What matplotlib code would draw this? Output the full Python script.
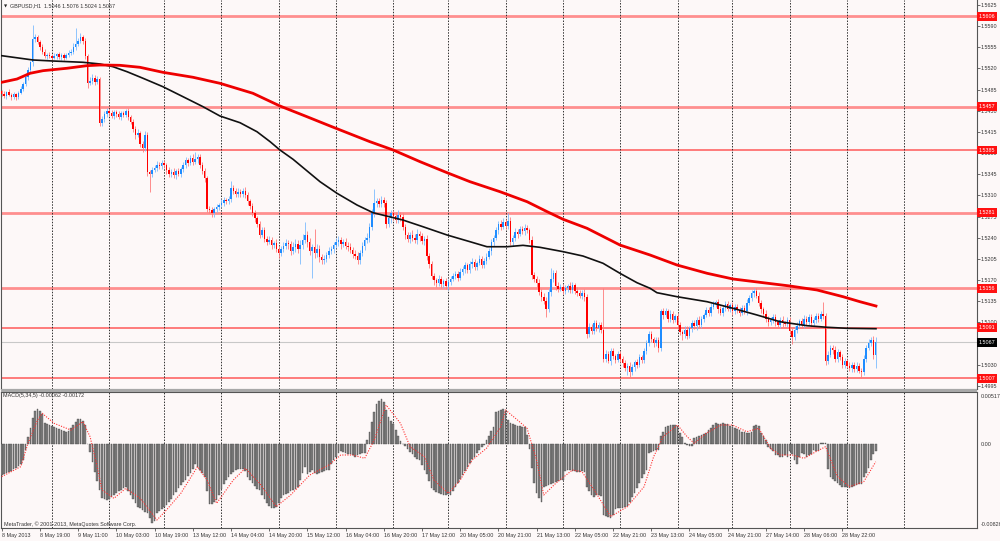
import matplotlib
matplotlib.use('Agg')
import matplotlib.pyplot as plt
import matplotlib.transforms as mtransforms
from matplotlib.patches import Rectangle
import numpy as np

plt.rcParams['font.family'] = ['Liberation Sans', 'DejaVu Sans']

W, H = 1000, 541
BG = '#fdf8f8'
FS = 3.9

# GBPUSD H1 candles, in pips above 1.5000 (each bar opens at the previous close)
first_open = 482
closes = [
    478, 474, 481, 476, 472, 477, 473, 480, 486, 494,
    506, 518, 530, 568, 572, 564, 556, 548, 540, 543,
    541, 537, 540, 544, 539, 542, 538, 543, 545, 548,
    556, 560, 566, 572, 566, 540, 496, 500, 505, 498,
    502, 430, 436, 445, 450, 446, 441, 448, 444, 439,
    446, 443, 449, 440, 432, 420, 410, 413, 395, 388,
    410, 348, 345, 352, 356, 361, 358, 364, 360, 352,
    345, 349, 343, 350, 346, 353, 360, 368, 364, 372,
    366, 370, 374, 360, 350, 338, 288, 285, 280, 287,
    290, 294, 298, 302, 300, 304, 322, 318, 312, 316,
    313, 318, 310, 300, 292, 280, 272, 262, 245, 252,
    238, 233, 236, 228, 231, 222, 215, 222, 226, 231,
    229, 218, 225, 230, 221, 228, 236, 245, 232, 218,
    224, 214, 222, 208, 203, 205, 212, 218, 221, 228,
    233, 236, 229, 232, 227, 225, 220, 213, 210, 203,
    215, 226, 236, 240, 258, 280, 298, 300, 296, 302,
    298, 262, 272, 280, 276, 270, 278, 274, 258, 244,
    238, 245, 240, 236, 246, 242, 234, 238, 210, 196,
    176, 170, 165, 172, 163, 168, 160, 166, 172, 176,
    180, 174, 183, 188, 194, 186, 196, 200, 192, 198,
    205, 195, 202, 208, 218, 232, 240, 252, 262, 258,
    266, 260, 268, 232, 240, 250, 246, 254, 251, 256,
    252, 236, 178, 172, 165, 150, 142, 136, 122, 150,
    172, 182, 160, 155, 158, 152, 156, 160, 153, 161,
    152, 148, 144, 149, 141, 80, 92, 86, 98, 90,
    95, 88, 40, 48, 36, 52, 44, 38, 47, 40,
    32, 24, 28, 18, 26, 34, 30, 42, 38, 52,
    66, 80, 72, 65, 70, 58, 118, 112, 118, 106,
    114, 104, 110, 96, 84, 80, 88, 78, 90, 98,
    94, 104, 96, 106, 112, 120, 116, 126, 130, 133,
    122, 116, 124, 130, 122, 128, 118, 126, 120, 116,
    124, 118, 132, 140, 148, 152, 144, 132, 122, 114,
    106, 100, 104, 108, 100, 96, 104, 98, 97, 103,
    86, 76, 88, 94, 102, 96, 106, 100, 108, 98,
    104, 110, 106, 114, 110, 36, 46, 58, 54, 40,
    50, 42, 30, 36, 28, 24, 30, 22, 28, 20,
    18, 40, 58, 66, 70, 46, 67,
]
up_wick = [
    3, 4, 2, 5, 3, 4, 2, 3, 5, 4,
    6, 4, 3, 24, 5, 4, 3, 5, 4, 3,
    4, 3, 5, 2, 4, 3, 4, 3, 5, 4,
    6, 27, 5, 6, 4, 5, 4, 6, 5, 4,
    5, 4, 6, 5, 4, 3, 5, 4, 3, 5,
    4, 3, 4, 5, 3, 4, 5, 6, 4, 5,
    6, 5, 4, 5, 4, 6, 5, 4, 5, 4,
    5, 4, 6, 3, 5, 4, 5, 6, 4, 5,
    6, 12, 5, 4, 6, 5, 4, 5, 6, 4,
    5, 4, 6, 5, 4, 5, 11, 5, 4, 6,
    5, 4, 6, 5, 4, 5, 6, 4, 5, 6,
    5, 4, 6, 5, 4, 6, 5, 4, 6, 7,
    5, 6, 8, 7, 6, 8, 10, 21, 6, 7,
    6, 30, 8, 6, 5, 6, 5, 7, 6, 5,
    6, 7, 5, 6, 7, 5, 6, 5, 7, 6,
    5, 6, 5, 7, 6, 8, 22, 6, 5, 7,
    6, 5, 7, 6, 5, 6, 7, 5, 6, 5,
    6, 5, 7, 6, 9, 5, 6, 5, 6, 5,
    6, 5, 4, 6, 5, 4, 6, 5, 4, 6,
    5, 4, 6, 5, 6, 4, 5, 6, 5, 4,
    6, 5, 4, 6, 5, 6, 5, 6, 5, 7,
    6, 5, 13, 6, 5, 6, 5, 6, 5, 6,
    5, 4, 6, 5, 4, 6, 5, 6, 5, 6,
    17, 5, 4, 6, 5, 6, 5, 4, 6, 5,
    4, 6, 5, 4, 6, 5, 6, 5, 6, 5,
    6, 5, 69, 6, 5, 6, 5, 4, 6, 5,
    4, 5, 4, 6, 5, 4, 6, 5, 4, 6,
    5, 6, 5, 4, 6, 5, 4, 6, 5, 4,
    6, 5, 4, 6, 5, 4, 6, 5, 4, 6,
    5, 4, 6, 5, 4, 6, 5, 6, 5, 4,
    6, 5, 4, 6, 5, 4, 6, 5, 4, 6,
    5, 4, 6, 5, 6, 5, 4, 6, 5, 4,
    6, 5, 4, 5, 6, 4, 5, 6, 4, 5,
    6, 4, 5, 6, 4, 5, 6, 4, 5, 6,
    4, 5, 6, 5, 19, 5, 6, 5, 4, 6,
    5, 4, 6, 5, 4, 6, 5, 4, 6, 5,
    4, 6, 5, 6, 5, 7, 9,
]
down_wick = [
    4, 3, 5, 2, 4, 3, 5, 4, 3, 4,
    3, 5, 4, 6, 4, 3, 5, 4, 3, 5,
    3, 4, 2, 4, 3, 5, 4, 3, 4, 3,
    4, 5, 3, 4, 5, 4, 8, 4, 5, 6,
    4, 6, 5, 4, 5, 4, 3, 5, 4, 3,
    5, 4, 3, 5, 4, 5, 6, 4, 5, 6,
    5, 6, 29, 5, 4, 5, 4, 5, 4, 6,
    5, 4, 5, 6, 4, 5, 4, 5, 6, 4,
    5, 4, 6, 5, 4, 6, 5, 4, 6, 5,
    4, 5, 4, 6, 5, 4, 5, 6, 4, 5,
    6, 5, 4, 6, 5, 4, 6, 5, 6, 4,
    6, 5, 4, 6, 5, 6, 8, 5, 6, 5,
    7, 6, 5, 8, 6, 25, 6, 5, 8, 7,
    45, 7, 6, 8, 7, 6, 5, 6, 5, 7,
    5, 6, 7, 5, 6, 7, 5, 6, 5, 7,
    6, 5, 6, 5, 7, 6, 5, 7, 6, 5,
    7, 6, 5, 7, 6, 5, 6, 7, 5, 6,
    5, 7, 6, 5, 6, 7, 5, 6, 7, 6,
    5, 8, 6, 5, 7, 6, 5, 6, 5, 4,
    5, 6, 4, 5, 6, 5, 4, 6, 5, 6,
    4, 5, 6, 5, 4, 6, 5, 4, 6, 5,
    4, 6, 5, 4, 6, 5, 6, 4, 5, 6,
    4, 5, 6, 5, 6, 5, 6, 5, 14, 5,
    6, 5, 6, 5, 4, 6, 5, 6, 5, 4,
    6, 5, 4, 6, 5, 6, 5, 6, 5, 4,
    6, 5, 6, 5, 4, 6, 5, 6, 4, 5,
    6, 5, 12, 8, 5, 6, 5, 4, 6, 5,
    4, 6, 5, 6, 5, 7, 5, 6, 4, 5,
    6, 5, 4, 6, 5, 10, 6, 5, 4, 6,
    5, 6, 4, 5, 6, 4, 5, 6, 4, 5,
    6, 4, 5, 6, 4, 5, 6, 4, 5, 6,
    4, 5, 6, 4, 5, 6, 4, 5, 6, 4,
    5, 6, 4, 5, 6, 4, 5, 6, 4, 5,
    6, 12, 5, 6, 4, 5, 6, 4, 5, 6,
    4, 5, 6, 4, 5, 6, 5, 4, 6, 5,
    6, 4, 5, 6, 4, 5, 6, 4, 5, 4,
    10, 5, 6, 4, 5, 6, 22,
]

# MACD(5,34,5) histogram, units of 0.001
macd_main = [
    -3.0, -2.9, -2.8, -2.7, -2.6, -2.4, -2.3, -2.1, -1.9, -1.5,
    -0.6, 0.7, 1.6, 2.6, 3.3, 3.5, 3.3, 3.0, 2.1, 2.0,
    1.9, 1.8, 1.7, 1.6, 1.5, 1.4, 1.3, 1.25, 1.3, 1.6,
    1.9, 2.2, 2.5, 2.5, 2.3, 1.9, 0.0, -0.8, -1.7, -2.7,
    -3.6, -4.5, -5.3, -5.4, -5.5, -5.4, -5.2, -5.0, -4.8, -4.6,
    -4.5, -4.3, -4.2, -4.6, -5.0, -5.4, -5.8, -6.2, -6.3, -6.5,
    -6.7, -6.8, -7.3, -7.8, -7.6, -6.8, -6.6, -6.4, -6.2, -6.0,
    -5.7, -5.4, -5.0, -4.7, -4.3, -4.0, -3.7, -3.5, -3.1, -2.8,
    -2.4, -1.9, -2.2, -2.5, -2.8, -3.2, -4.6, -5.9, -5.9, -5.7,
    -5.5, -5.0, -4.4, -3.9, -3.5, -3.2, -2.9, -2.7, -2.5, -2.4,
    -2.4, -2.4, -2.6, -3.2, -3.5, -3.8, -4.1, -4.4, -4.5, -5.0,
    -5.4, -5.8, -6.1, -6.3, -6.3, -6.2, -5.8, -5.3, -5.0, -4.9,
    -4.8, -4.6, -4.5, -4.4, -4.2, -3.5, -2.8, -2.2, -2.9, -2.7,
    -2.5, -2.8, -2.9, -2.8, -2.7, -2.6, -2.5, -2.5, -1.9, -1.5,
    -1.2, -0.9, -0.7, -0.8, -0.9, -1.0, -1.0, -1.1, -1.2, -1.1,
    -1.0, -0.9, -0.9, 0.4, 1.2, 2.2, 3.2, 4.0, 4.3, 4.5,
    4.2, 3.4, 2.7, 2.3, 2.0, 1.4, 0.8, 0.3, 0.0, -0.2,
    -0.5, -0.8, -1.0, -1.2, -1.4, -1.5, -2.0, -2.5, -2.9, -3.6,
    -4.3, -4.5, -4.7, -4.8, -4.9, -5.0, -5.0, -4.9, -5.0, -4.6,
    -4.2, -3.8, -3.4, -3.0, -2.6, -2.2, -1.8, -1.4, -1.2, -0.9,
    -0.6, -0.3, -0.1, 0.4, 0.8, 1.3, 1.7, 3.2, 3.3, 3.4,
    3.5, 3.3, 2.4, 2.1, 2.0, 1.9, 1.8, 1.8, 1.7, 1.7,
    0.9, -0.5, -2.3, -3.8, -4.8, -5.3, -5.7, -4.2, -4.1, -4.0,
    -3.9, -3.8, -3.7, -3.6, -3.5, -3.5, -2.6, -2.5, -2.5, -2.6,
    -2.6, -2.7, -2.7, -2.6, -2.7, -4.2, -4.6, -5.0, -5.2, -5.0,
    -5.0, -5.1, -7.0, -7.1, -7.2, -7.3, -7.0, -6.4, -6.3, -6.3,
    -6.3, -6.2, -6.1, -5.7, -5.2, -4.8, -4.3, -3.8, -3.3, -2.9,
    -2.5, -0.9, -0.8, -0.7, -0.6, -0.6, 0.8, 1.2, 1.7, 1.8,
    1.9, 1.9, 1.9, 1.8, 1.1, 0.7, 0.1, -0.1, -0.2, -0.2,
    0.6, 0.7, 0.8, 0.9, 1.0, 1.1, 1.4, 1.6, 1.9, 2.1,
    2.0, 2.0, 2.1, 2.0, 2.0, 1.8, 1.7, 1.6, 1.5, 1.4,
    1.25, 1.2, 1.1, 1.1, 1.2, 1.8, 1.9, 1.8, 1.1, 0.8,
    0.4, -0.3, -0.5, -0.7, -1.1, -1.1, -1.2, -1.2, -1.1, -1.2,
    -0.7, -1.0, -1.5, -1.9, -1.2, -0.9, -1.0, -1.2, -1.1, -1.0,
    -0.6, -0.7, -0.7, 0.1, 0.1, 0.1, -2.4, -3.2, -3.4, -3.6,
    -3.8, -4.0, -4.2, -4.2, -4.2, -4.3, -4.2, -4.1, -4.0, -3.9,
    -3.9, -3.2, -2.8, -2.3, -1.5, -1.0, -0.62,
]
# signal line, read at points along it (bar index, units of 0.001)
signal_bar = [0, 8, 11, 15, 17, 22, 29, 34, 37, 40, 42, 47, 52, 58, 65, 69, 75,
              82, 86, 90, 97, 102, 108, 115, 121, 129, 137, 142, 147, 152, 156,
              161, 167, 171, 177, 181, 187, 192, 197, 203, 209, 211, 216, 220,
              224, 227, 232, 239, 243, 249, 255, 262, 269, 273, 277, 283, 287,
              290, 295, 301, 306, 312, 317, 322, 326, 331, 336, 341, 345, 350,
              355, 361, 366]
signal_val = [-3.19, -2.20, 0.10, 2.40, 3.06, 2.07, 1.41, 2.24, 0.76, -2.20,
              -4.51, -5.33, -4.34, -5.33, -7.47, -6.48, -4.84, -2.20, -3.52,
              -5.82, -3.52, -2.37, -3.85, -6.15, -5.00, -3.03, -2.04, -1.05,
              -1.05, -1.38, 0.43, 3.88, 2.07, -0.23, -1.22, -3.52, -4.84,
              -3.52, -1.55, -0.39, 1.74, 3.39, 2.40, 1.58, -1.55, -5.00,
              -3.85, -2.53, -2.70, -4.84, -7.14, -6.15, -4.18, -1.22, 0.76,
              1.91, 0.76, 0.10, 1.09, 1.91, 1.91, 1.25, 1.58, -0.39, -1.05,
              -1.05, -1.38, -0.72, -0.23, -3.19, -4.18, -3.68, -1.72]

# moving averages (bar position, price)
ma_black_bar = [0, 13.1, 21.5, 34.0, 41.2, 46.6, 52.5, 59.2, 67.5, 75.9, 84.3,
                91.4, 99.8, 106.9, 112.4, 116.5, 122.0, 133.3, 140.4, 148.8,
                155.5, 168.0, 176.4, 186.5, 196.1, 203.2, 211.6, 218.3, 225.4,
                235.1, 243.4, 251.8, 258.9, 266.0, 271.5, 274.4, 282.8, 295.4,
                306.2, 316.3, 325.9, 337.2, 345.6, 354.0, 366.1]
ma_black = [1.55411, 1.55340, 1.55323, 1.55302, 1.55274, 1.55229, 1.55146,
            1.55037, 1.54898, 1.54733, 1.54567, 1.54413, 1.54302, 1.54153,
            1.53988, 1.53851, 1.53697, 1.53326, 1.53134, 1.52940, 1.52813,
            1.52692, 1.52581, 1.52444, 1.52333, 1.52250, 1.52250, 1.52273,
            1.52240, 1.52168, 1.52096, 1.51976, 1.51810, 1.51655, 1.51562,
            1.51489, 1.51423, 1.51340, 1.51231, 1.51120, 1.51009, 1.50943,
            1.50917, 1.50900, 1.50893]
ma_red_bar = [0, 6.4, 11.9, 17.3, 27.3, 35.7, 41.2, 49.5, 57.9, 67.5, 80.1,
              91.4, 105.2, 116.5, 127.8, 137.5, 154.2, 163.9, 175.2, 186.5,
              196.1, 208.7, 220.0, 228.4, 235.1, 245.1, 258.9, 267.3, 271.5,
              282.8, 295.4, 306.2, 317.5, 330.1, 341.4, 352.3, 359.4, 366.1]
ma_red = [1.54971, 1.55025, 1.55120, 1.55163, 1.55203, 1.55246, 1.55257,
          1.55252, 1.55219, 1.55136, 1.55054, 1.54954, 1.54789, 1.54579,
          1.54402, 1.54248, 1.53988, 1.53851, 1.53657, 1.53475, 1.53326,
          1.53160, 1.52995, 1.52830, 1.52704, 1.52555, 1.52278, 1.52168,
          1.52113, 1.51947, 1.51810, 1.51716, 1.51661, 1.51600, 1.51534,
          1.51423, 1.51340, 1.51269]

levels = [1.5606, 1.5457, 1.5385, 1.5281, 1.5156, 1.5091, 1.5007]
level_soft = [True, True, False, True, True, False, False]
bid = 1.5067

price_ticks = [1.5625, 1.5590, 1.5555, 1.5520, 1.5485, 1.5450, 1.5415, 1.5380,
               1.5345, 1.5310, 1.5275, 1.5240, 1.5205, 1.5170, 1.5135, 1.5100,
               1.5065, 1.5030, 1.4995]
time_bars = [0, 16, 32, 48, 64, 80, 96, 112, 128, 144, 160, 176, 192, 208, 224,
             240, 256, 272, 288, 304, 320, 336, 352]
time_labels = ['8 May 2013', '8 May 19:00', '9 May 11:00', '10 May 03:00',
               '10 May 19:00', '13 May 12:00', '14 May 04:00', '14 May 20:00',
               '15 May 12:00', '16 May 04:00', '16 May 20:00', '17 May 12:00',
               '20 May 05:00', '20 May 21:00', '21 May 13:00', '22 May 05:00',
               '22 May 21:00', '23 May 13:00', '24 May 05:00', '24 May 21:00',
               '27 May 14:00', '28 May 06:00', '28 May 22:00']
day_bars = [21, 45, 68, 92, 116, 140, 164, 187, 211, 235, 259, 283, 306, 330,
            354, 378]


def px_rect(x0, y0, x1, y1):
    return [x0 / W, 1 - y1 / H, (x1 - x0) / W, (y1 - y0) / H]


fig = plt.figure(figsize=(W / 100, H / 100), dpi=100, facecolor=BG)
ax = fig.add_axes(px_rect(1, 0, 976.5, 389), facecolor=BG)
mx = fig.add_axes(px_rect(1, 392, 976.5, 528), facecolor=BG, sharex=ax)

c = 1.5 + np.array(closes) / 10000
o = 1.5 + np.r_[first_open, closes[:-1]] / 10000
top = np.maximum(o, c)
bot = np.minimum(o, c)
hi = top + np.array(up_wick) / 10000
lo = bot - np.array(down_wick) / 10000
x = np.arange(len(c))
up = c >= o

# levels and bid line
for lv, soft in zip(levels, level_soft):
    if soft:
        ax.axhline(lv, color='#ff8f8f', lw=2.0, zorder=1)
    else:
        ax.axhline(lv, color='#ff5a5a', lw=1.1, zorder=1)
ax.axhline(bid, color='#c8c8c8', lw=0.8, zorder=1)

for b in day_bars:
    ax.axvline(b, color='#303030', lw=0.7, ls=(0, (1.5, 1.5)), zorder=2)
    mx.axvline(b, color='#303030', lw=0.7, ls=(0, (1.5, 1.5)), zorder=2)

# candles
ax.vlines(x[up], lo[up], hi[up], colors='#7dbcff', lw=0.6, zorder=3)
ax.vlines(x[~up], lo[~up], hi[~up], colors='#ff7a7a', lw=0.6, zorder=3)
body = np.maximum(top - bot, 0.00003)
ax.bar(x[up], body[up], bottom=bot[up], width=0.62, color='#1e8cff', lw=0, zorder=4)
ax.bar(x[~up], body[~up], bottom=bot[~up], width=0.62, color='#ff0000', lw=0, zorder=4)

ax.plot(ma_black_bar, ma_black, color='#111111', lw=1.2, zorder=5,
        solid_joinstyle='round')
ax.plot(ma_red_bar, ma_red, color='#ee0000', lw=2.0, zorder=5,
        solid_joinstyle='round')

ax.set_xlim(-0.29, 408.2)
ax.set_ylim(1.498956, 1.563327)
ax.yaxis.tick_right()
ax.set_yticks(price_ticks)
ax.set_yticklabels([f'{p:.4f}' for p in price_ticks])
ax.tick_params(axis='y', labelsize=FS, length=2, width=0.5, pad=1,
               colors='#333333')
ax.tick_params(axis='x', bottom=False, labelbottom=False)
ax.spines['top'].set_visible(False)
for s in ['left', 'right', 'bottom']:
    ax.spines[s].set_color('#555555')
    ax.spines[s].set_linewidth(0.8)

# MACD panel
m = np.array(macd_main) / 1000
mx.bar(x, m, width=0.7, color='#808080', edgecolor='#404040', lw=0.25, zorder=3)
mx.plot(signal_bar, np.array(signal_val) / 1000, color='#ff3030', lw=0.8,
        ls=(0, (1, 1.3)), zorder=4)
mx.set_ylim(-0.00826, 0.00517)
mx.yaxis.tick_right()
mx.set_yticks([0.0048, 0.0, -0.0079])
mx.set_yticklabels(['0.00517', '0.00', '-0.00826'])
mx.tick_params(axis='y', labelsize=FS, length=0, pad=3,
               colors='#333333')
mx.set_xticks(time_bars)
mx.set_xticklabels(time_labels, ha='left')
mx.tick_params(axis='x', labelsize=FS, length=2, width=0.5, pad=1.5,
               colors='#333333')
for s in mx.spines.values():
    s.set_color('#555555')
    s.set_linewidth(0.8)

# separator between the panels
fig.add_artist(Rectangle((1 / W, 1 - 392 / H), 975.5 / W, 3 / H,
                         transform=fig.transFigure, color='#a8a8a8', lw=0))

# price boxes on the right scale
tr = mtransforms.blended_transform_factory(fig.transFigure, ax.transData)
for lv in levels:
    fig.text(978.5 / W, lv, f'{lv:.4f}', transform=tr, color='white',
             fontsize=FS, va='center', ha='left', zorder=10,
             bbox=dict(boxstyle='square,pad=0.35', fc='#ff1010', ec='none'))
fig.text(978.5 / W, bid, f'{bid:.4f}', transform=tr, color='white',
         fontsize=FS, va='center', ha='left', zorder=10,
         bbox=dict(boxstyle='square,pad=0.35', fc='#000000', ec='none'))

# header texts
fig.text(4 / W, 1 - 6 / H, '\u25bc', fontsize=3, va='center', ha='left',
         color='#222222', family=['DejaVu Sans'])
fig.text(10 / W, 1 - 6 / H, 'GBPUSD,H1  1.5046 1.5076 1.5024 1.5067',
         fontsize=FS, va='center', ha='left', color='#333333')
fig.text(3 / W, 1 - 396 / H, 'MACD(5,34,5) -0.00062 -0.00172',
         fontsize=FS, va='center', ha='left', color='#333333')
fig.text(4 / W, 1 - 524.5 / H,
         'MetaTrader, \u00a9 2001-2013, MetaQuotes Software Corp.',
         fontsize=FS, va='center', ha='left', color='#333333')

fig.savefig('out.png', dpi=100, facecolor=BG)
